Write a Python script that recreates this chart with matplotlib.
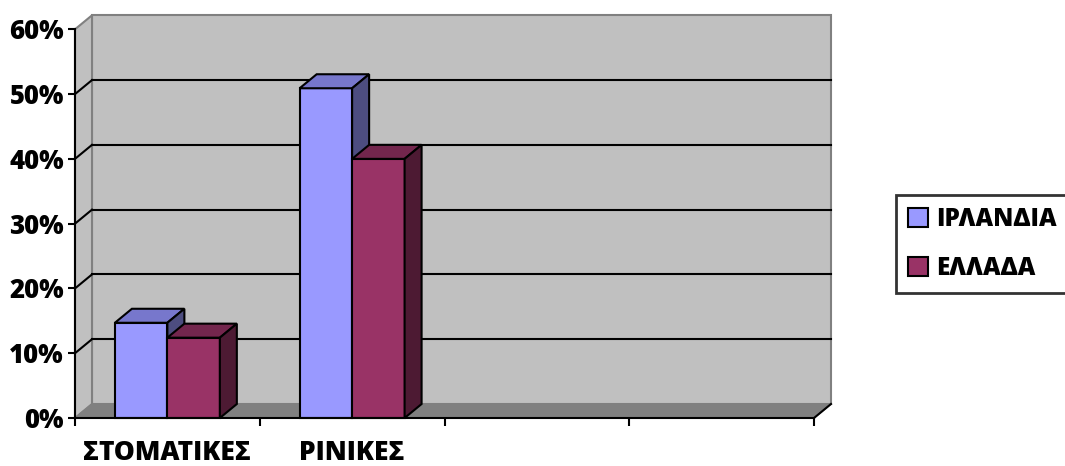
import matplotlib
matplotlib.use('Agg')
import matplotlib.pyplot as plt
from matplotlib.patches import Polygon, Patch

plt.rcParams['font.family'] = ['Open Sans', 'DejaVu Sans']
plt.rcParams['font.weight'] = 'heavy'

categories = ['ΣΤΟΜΑΤΙΚΕΣ', 'ΡΙΝΙΚΕΣ', '', '']
series = ['ΙΡΛΑΝΔΙΑ', 'ΕΛΛΑΔΑ']
ireland = [14.7, 50.9]
greece = [12.4, 40.0]
yticks = [0, 10, 20, 30, 40, 50, 60]

front = ['#9999FF', '#993366']
top = ['#7777CC', '#73264D']
side = ['#4D4D80', '#4D1A33']

W, H = 1065, 466
fig = plt.figure(figsize=(W / 100, H / 100), dpi=100)
ax = fig.add_axes([75 / W, (H - 418) / H, 739 / W, (418 - 29.3) / H])
n = len(categories)
ax.set_xlim(0, n)
ax.set_ylim(0, 60)
ax.patch.set_visible(False)

# depth of the 3d box, in data units
ddx = 17 / 184.75
ddy = 14 / 6.478
wall = '#C0C0C0'
edge = '#808080'

# back wall, side wall, floor
ax.add_patch(Polygon([(ddx, ddy), (n + ddx, ddy), (n + ddx, 60 + ddy), (ddx, 60 + ddy)],
                     closed=True, fc=wall, ec=edge, lw=1.5, clip_on=False, zorder=0))
ax.add_patch(Polygon([(0, 0), (ddx, ddy), (ddx, 60 + ddy), (0, 60)],
                     closed=True, fc=wall, ec=edge, lw=1.5, clip_on=False, zorder=0))
ax.add_patch(Polygon([(0, 0), (n, 0), (n + ddx, ddy), (ddx, ddy)],
                     closed=True, fc=edge, ec=edge, lw=1, clip_on=False, zorder=1))
ax.plot([n, n + ddx], [0, ddy], color='black', lw=1.5, clip_on=False, zorder=2)

for t in yticks[1:-1]:
    ax.plot([ddx, n + ddx], [t + ddy, t + ddy], color='black', lw=1.5, clip_on=False, zorder=1)
    ax.plot([0, ddx], [t, t + ddy], color='black', lw=1.5, clip_on=False, zorder=1)

# bars
bw = 0.284
for k, vals in enumerate([ireland, greece]):
    xs = [i + 0.5 + (k - 0.5) * bw for i in range(len(vals))]
    ax.bar(xs, vals, bw, color=front[k], edgecolor='black', linewidth=1.5,
           zorder=3 + k, clip_on=False)
    for x, v in zip(xs, vals):
        l, r = x - bw / 2, x + bw / 2
        ax.add_patch(Polygon([(l, v), (r, v), (r + ddx, v + ddy), (l + ddx, v + ddy)],
                             closed=True, fc=top[k], ec='black', lw=1.5,
                             clip_on=False, zorder=3 + k))
        ax.add_patch(Polygon([(r, 0), (r + ddx, ddy), (r + ddx, v + ddy), (r, v)],
                             closed=True, fc=side[k], ec='black', lw=1.5,
                             clip_on=False, zorder=3 + k))

# axes
for s in ['top', 'right']:
    ax.spines[s].set_visible(False)
for s in ['left', 'bottom']:
    ax.spines[s].set_linewidth(1.5)
    ax.spines[s].set_zorder(6)
ax.set_yticks(yticks)
ax.set_yticklabels([f'{t}%' for t in yticks], fontsize=18.5, fontweight='heavy')
ax.set_xticks(range(n + 1))
ax.set_xticklabels([])
ax.set_xticks([i + 0.5 for i in range(n)], minor=True)
ax.set_xticklabels(categories, minor=True, fontsize=19, fontweight='heavy')
ax.tick_params(axis='y', length=5, width=1.5, pad=3)
ax.tick_params(axis='x', which='major', length=6, width=1.5)
ax.tick_params(axis='x', which='minor', length=0, pad=16)

handles = [Patch(fc=front[k], ec='black', lw=1.5) for k in range(2)]
leg = fig.legend(handles, series, loc='center left', bbox_to_anchor=(896 / W, (H - 244) / H),
                 prop={'weight': 'heavy', 'size': 17.5},
                 frameon=True, fancybox=False, edgecolor='black',
                 handlelength=0.8, handleheight=0.8, handletextpad=0.35,
                 labelspacing=1.0, borderpad=0.5, borderaxespad=0)
leg.get_frame().set_linewidth(2)

fig.savefig('out.png', dpi=100)
